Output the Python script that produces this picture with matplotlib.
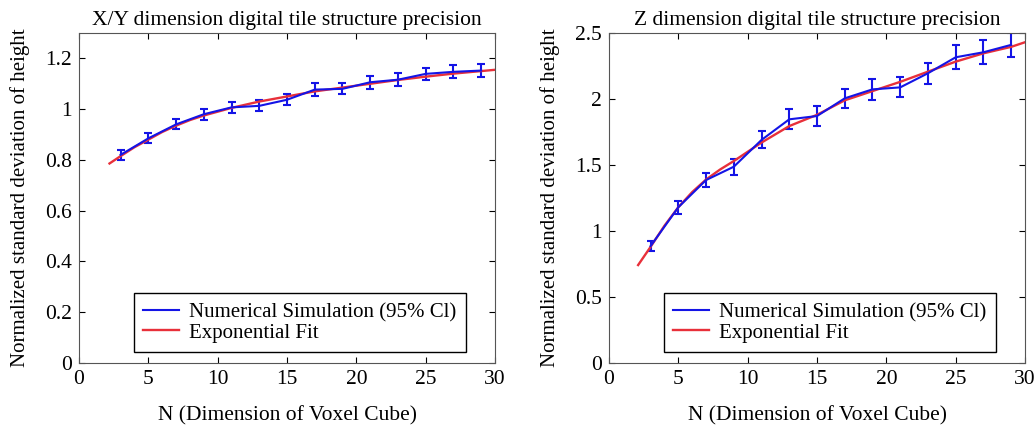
import matplotlib
matplotlib.use('Agg')
import matplotlib.pyplot as plt
from matplotlib.lines import Line2D
from matplotlib.ticker import FormatStrFormatter

# Voxel cube sizes
n_vals = [3, 5, 7, 9, 11, 13, 15, 17, 19, 21, 23, 25, 27, 29]

# X/Y dimension: simulation means and 95% CI half-widths
xy_mean = [0.82, 0.885, 0.94, 0.98, 1.007, 1.013, 1.037, 1.077, 1.08, 1.106, 1.116, 1.139, 1.147, 1.152]
xy_err = [0.02, 0.02, 0.02, 0.022, 0.022, 0.022, 0.022, 0.025, 0.022, 0.025, 0.025, 0.025, 0.025, 0.025]

# X/Y dimension: fit curve
xy_fit_n = [2.2, 3, 4, 5, 6, 7, 8, 9, 11, 13, 15, 17, 19, 21, 23, 25, 27, 29, 30]
xy_fit = [0.786, 0.815, 0.85, 0.88, 0.91, 0.935, 0.957, 0.975, 1.005, 1.03, 1.05, 1.07, 1.085, 1.10, 1.115, 1.128, 1.14, 1.15, 1.155]

# Z dimension
z_mean = [0.886, 1.18, 1.386, 1.487, 1.69, 1.846, 1.871, 2.005, 2.073, 2.088, 2.195, 2.316, 2.354, 2.41]
z_err = [0.04, 0.05, 0.055, 0.06, 0.065, 0.075, 0.075, 0.07, 0.08, 0.075, 0.08, 0.09, 0.09, 0.09]

z_fit_n = [2.1, 3, 4, 5, 6, 7, 8, 9, 11, 13, 15, 17, 19, 21, 23, 25, 27, 29, 30]
z_fit = [0.742, 0.88, 1.04, 1.18, 1.295, 1.39, 1.465, 1.53, 1.67, 1.795, 1.88, 1.99, 2.06, 2.13, 2.207, 2.283, 2.346, 2.395, 2.43]

BLUE = '#1414e6'
RED = '#e8303a'

plt.rcParams['font.family'] = ['Liberation Serif', 'DejaVu Serif']

fig = plt.figure(figsize=(10.34, 4.28), dpi=100)
ax1 = fig.add_axes([79 / 1034, 65 / 428, 416 / 1034, 330 / 428])
ax2 = fig.add_axes([609 / 1034, 65 / 428, 416 / 1034, 330 / 428])

panels = [
    (ax1, xy_mean, xy_err, xy_fit_n, xy_fit, 'X/Y dimension digital tile structure precision', 1.3, [0, 0.2, 0.4, 0.6, 0.8, 1, 1.2]),
    (ax2, z_mean, z_err, z_fit_n, z_fit, 'Z dimension digital tile structure precision', 2.5, [0, 0.5, 1, 1.5, 2, 2.5]),
]

for ax, mean, err, fit_n, fit, title, ymax, yticks in panels:
    ax.errorbar(n_vals, mean, yerr=err, color=BLUE, lw=1.5, capsize=3,
                elinewidth=1.5, capthick=1.5)
    ax.plot(fit_n, fit, color=RED, lw=1.7)
    ax.set_xlim(0, 30)
    ax.set_ylim(0, ymax)
    ax.set_xticks([0, 5, 10, 15, 20, 25, 30])
    ax.set_yticks(yticks)
    ax.yaxis.set_major_formatter(FormatStrFormatter('%g'))
    ax.tick_params(direction='in', top=True, right=True, length=4, labelsize=15.5, pad=5)
    for s in ax.spines.values():
        s.set_color('#555555')
    ax.set_title(title, fontsize=15.5, pad=6)
    ax.set_xlabel('N (Dimension of Voxel Cube)', fontsize=15.5, labelpad=12)
    ax.set_ylabel('Normalized standard deviation of height', fontsize=15, labelpad=11)
    handles = [Line2D([], [], color=BLUE, lw=1.5), Line2D([], [], color=RED, lw=1.7)]
    leg = ax.legend(handles, ['Numerical Simulation (95% Cl)', 'Exponential Fit'],
                    loc='lower right', bbox_to_anchor=(0.93, 0.033), fancybox=False,
                    edgecolor='black', framealpha=1, fontsize=15, handlelength=1.7,
                    handletextpad=0.5, borderpad=0.45, labelspacing=0.05, borderaxespad=0)
    leg.get_frame().set_linewidth(1.0)

fig.savefig('out.png', dpi=100)
